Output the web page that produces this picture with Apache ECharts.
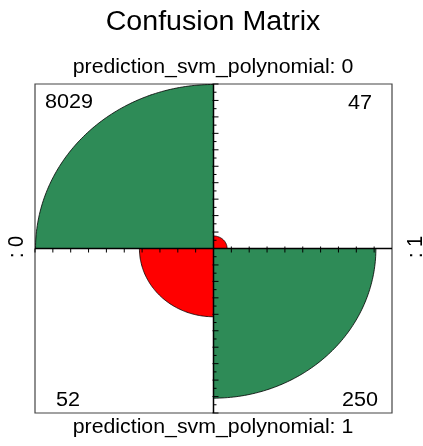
<!DOCTYPE html>
<html><head><meta charset="utf-8">
<script src="https://cdn.jsdelivr.net/npm/echarts@6/dist/echarts.min.js"></script>
<style>html,body{margin:0;padding:0;background:#fff}#c{width:423px;height:446px}</style>
</head><body><div id="c"></div><script>
const titleText = 'Confusion Matrix';
const rowLabels = ['prediction_svm_polynomial: 0', 'prediction_svm_polynomial: 1'];
const colLabels = [': 0', ': 1'];
// cells: top-left, top-right, bottom-left, bottom-right
const counts = [8029, 47, 52, 250];
const quadSigns = [[-1, 1], [1, 1], [-1, -1], [1, -1]];
const quadColors = ['#2E8B57', '#FF0000', '#FF0000', '#2E8B57'];

// standardize by rows (top row / bottom row), radius ~ sqrt(proportion)
const rowSums = [counts[0] + counts[1], counts[2] + counts[3]];
const radii = counts.map((c, i) => Math.sqrt(c / rowSums[i < 2 ? 0 : 1]));
const quadData = counts.map((c, i) => [i, radii[i]]);

// tick marks along the axes (data units)
const ticks = [];
for (let k = 1; k <= 10; k++) ticks.push([-k / 10, 0, 'hl']);
for (let k = 1; k <= 9; k++) ticks.push([k / 10, 0, 'hr']);
for (let k = 1; k <= 20; k++) ticks.push([0, k / 20, k % 2 ? 'vs' : 'vl']);
for (let k = 1; k <= 20; k++) ticks.push([0, -k / 20, k % 2 ? 'vs' : 'vl']);

const chart = echarts.init(document.getElementById('c'), null, {renderer: 'canvas'});
const FONT = 'Liberation Sans, Arial, sans-serif';
function txt(text, x, y, size, sx, rot) {
  return {type: 'text', x: x, y: y, rotation: rot || 0, scaleX: rot ? 1 : sx, scaleY: rot ? sx : 1,
    style: {text: text, font: size + 'px ' + FONT, fill: '#000', align: 'center', verticalAlign: 'middle'}};
}
chart.setOption({
  backgroundColor: '#fff',
  animation: false,
  grid: {left: 35, right: 31, top: 84, bottom: 33, show: true, borderColor: '#444', borderWidth: 1.2, backgroundColor: 'transparent'},
  xAxis: {type: 'value', min: -1, max: 1, show: false},
  yAxis: {type: 'value', min: -1, max: 1, show: false},
  series: [
    {
      type: 'custom',
      data: quadData,
      z: 2,
      renderItem(params, api) {
        const i = api.value(0), r = api.value(1);
        const s = quadSigns[i];
        const pts = [api.coord([0, 0])];
        for (let k = 0; k <= 90; k++) {
          const t = k / 90 * Math.PI / 2;
          pts.push(api.coord([s[0] * r * Math.cos(t), s[1] * r * Math.sin(t)]));
        }
        return {type: 'polygon', shape: {points: pts}, style: {fill: quadColors[i], stroke: '#000', lineWidth: 0.8}};
      }
    },
    {
      type: 'custom',
      data: [[0]],
      z: 3,
      renderItem(params, api) {
        const l = api.coord([-1, 0]), r = api.coord([1, 0]), t = api.coord([0, 1]), b = api.coord([0, -1]);
        return {type: 'group', children: [
          {type: 'line', shape: {x1: l[0], y1: l[1], x2: r[0], y2: r[1]}, style: {stroke: '#000', lineWidth: 1.5}},
          {type: 'line', shape: {x1: t[0], y1: t[1], x2: b[0], y2: b[1]}, style: {stroke: '#000', lineWidth: 1.5}}
        ]};
      }
    },
    {
      type: 'custom',
      data: ticks,
      z: 4,
      renderItem(params, api) {
        const p = api.coord([api.value(0), api.value(1)]);
        const kind = ticks[params.dataIndex][2];
        let shape;
        if (kind === 'hl') shape = {x1: p[0], y1: p[1], x2: p[0], y2: p[1] + 4};
        else if (kind === 'hr') shape = {x1: p[0], y1: p[1] - 2, x2: p[0], y2: p[1] + 4};
        else if (kind === 'vl') shape = {x1: p[0] - 1, y1: p[1], x2: p[0] + 5, y2: p[1]};
        else shape = {x1: p[0], y1: p[1], x2: p[0] + 3, y2: p[1]};
        return {type: 'line', shape: shape, style: {stroke: '#000', lineWidth: 1}};
      }
    }
  ],
  graphic: [
    txt(titleText, 213, 23, 27, 1.06),
    txt(rowLabels[0], 213, 67, 20, 1.065),
    txt(rowLabels[1], 213, 427, 20, 1.065),
    txt(colLabels[0], 17, 247, 20, 1.065, Math.PI / 2),
    txt(colLabels[1], 416, 247, 20, 1.065, Math.PI / 2),
    txt(String(counts[0]), 69, 102, 20, 1.08),
    txt(String(counts[1]), 360, 103, 20, 1.08),
    txt(String(counts[2]), 68, 400, 20, 1.08),
    txt(String(counts[3]), 360, 400, 20, 1.08)
  ]
});
</script></body></html>
